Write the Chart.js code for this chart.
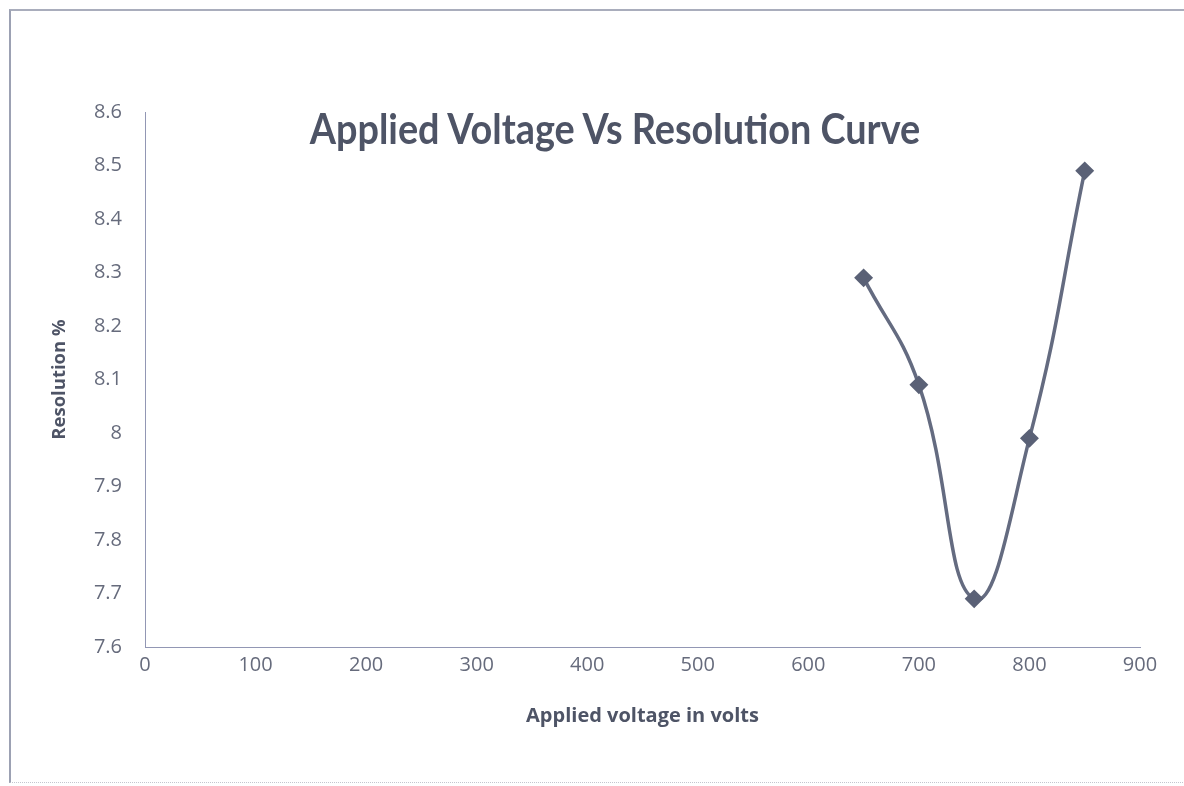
<!DOCTYPE html>
<html>
<head>
<meta charset="utf-8">
<script src="https://cdn.jsdelivr.net/npm/chart.js@4.4.1/dist/chart.umd.min.js"></script>
<style>
  html, body { margin: 0; padding: 0; background: #fff; }
  #wrap { position: relative; width: 1184px; height: 786px; overflow: hidden; }
  #frame {
    position: absolute; left: 9px; top: 9px; width: 1200px; height: 771px;
    border-top: 2px solid #a9adbc; border-left: 2px solid #9ca1b3; border-bottom: 1px dotted #c3c6cf;
  }
  #title {
    position: absolute; left: 0; width: 1230px; top: 107px; text-align: center;
    line-height: 42px; white-space: nowrap;
    font-family: Lato, "Open Sans", sans-serif; font-weight: bold; font-size: 42px; color: #4e5466;
    transform: scaleX(0.9); transform-origin: 615px 0;
  }
  canvas { position: absolute; left: 0; top: 0; }
</style>
</head>
<body>
<div id="wrap">
  <div id="frame"></div>
  <canvas id="chart" width="1184" height="786"></canvas>
  <div id="title">Applied Voltage Vs Resolution Curve</div>
</div>
<script>
// data
const voltage = [650, 700, 750, 800, 850];
const resolution = [8.29, 8.09, 7.69, 7.99, 8.49];
const xTicks = [0, 100, 200, 300, 400, 500, 600, 700, 800, 900];
const yTicks = [7.6, 7.7, 7.8, 7.9, 8, 8.1, 8.2, 8.3, 8.4, 8.5, 8.6];

const textColor = '#666b7c';
const lineColor = '#646b80';
const axisColor = '#9297b4';

const points = voltage.map((v, i) => ({ x: v, y: resolution[i] }));

new Chart(document.getElementById('chart'), {
  type: 'scatter',
  data: {
    datasets: [
      {
        data: points,
        showLine: true,
        tension: 0.45,
        borderColor: lineColor,
        borderWidth: 3.5,
        pointStyle: 'rectRot',
        pointRadius: 7,
        pointBackgroundColor: '#5a6176',
        pointBorderColor: '#5a6176',
      },
    ],
  },
  options: {
    responsive: false,
    animation: false,
    layout: { padding: { top: 112, right: 44, left: 45, bottom: 54 } },
    plugins: { legend: { display: false }, tooltip: { enabled: false } },
    scales: {
      x: {
        type: 'linear',
        min: xTicks[0],
        max: xTicks[xTicks.length - 1],
        afterBuildTicks: (s) => { s.ticks = xTicks.map((v) => ({ value: v })); },
        afterFit: (s) => { s.height = 85; },
        grid: { display: false, drawTicks: false },
        border: { color: axisColor, width: 1 },
        ticks: { color: textColor, padding: 6, font: { family: '"Open Sans", sans-serif', size: 20 } },
        title: {
          display: true,
          text: 'Applied voltage in volts',
          color: '#4e5466',
          padding: { top: 4, bottom: 4 },
          font: { family: '"Open Sans", sans-serif', weight: 'bold', size: 20 },
        },
      },
      y: {
        min: yTicks[0],
        max: yTicks[yTicks.length - 1],
        afterBuildTicks: (s) => { s.ticks = yTicks.map((v) => ({ value: v })); },
        afterFit: (s) => { s.width = 100; },
        grid: { display: false, drawTicks: false },
        border: { color: axisColor, width: 1 },
        ticks: {
          color: textColor,
          padding: 23,
          font: { family: '"Open Sans", sans-serif', size: 20 },
          callback: (v) => String(+v.toFixed(1)),
        },
        title: {
          display: true,
          text: 'Resolution %',
          color: '#4e5466',
          padding: { top: 4, bottom: 4 },
          font: { family: '"Open Sans", sans-serif', weight: 'bold', size: 18.5 },
        },
      },
    },
  },
});
</script>
</body>
</html>
